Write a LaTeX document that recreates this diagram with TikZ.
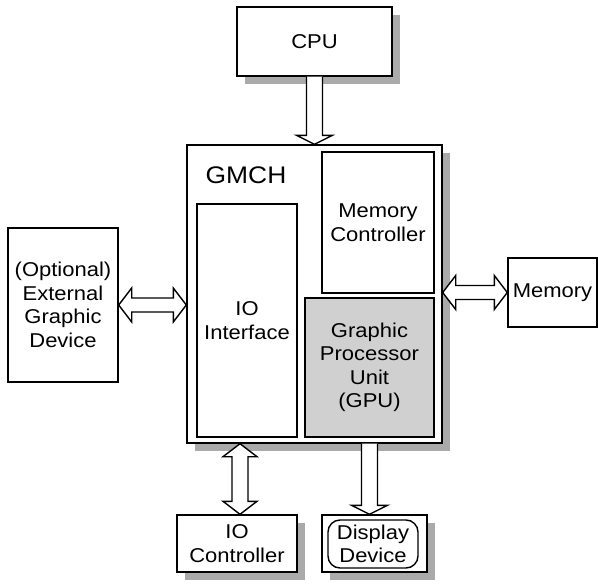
\documentclass[tikz,border=0pt]{standalone}
\usepackage{fontspec}
\setmainfont[FakeStretch=1.1]{Liberation Sans}
\usetikzlibrary{calc,shadows}
\definecolor{shadowgray}{RGB}{170,170,170}
\definecolor{gpugray}{RGB}{208,208,208}
\tikzset{
  box/.style={draw,fill=white,line width=1.4pt,inner sep=0pt,align=center,font=\fontsize{20}{23.5}\selectfont},
  shadowed/.style={drop shadow={shadow xshift=8pt,shadow yshift=-8pt,fill=shadowgray,opacity=1}},
  blockarr/.style={draw,line width=1.4pt,fill=white,line join=miter}
}
\newcommand{\vsarrow}[2]{\draw[blockarr] let \p1=(#1), \p2=(#2) in
  (\x1-8pt,\y1) -- (\x1-8pt,\y2+9pt) -- (\x1-18pt,\y2+9pt) -- (\x1,\y2)
  -- (\x1+18pt,\y2+9pt) -- (\x1+8pt,\y2+9pt) -- (\x1+8pt,\y1);}
\newcommand{\vdarrow}[2]{\draw[blockarr] let \p1=(#1), \p2=(#2) in
  (\x1,\y1) -- (\x1+17pt,\y1-13pt) -- (\x1+8pt,\y1-13pt) -- (\x1+8pt,\y2+13pt)
  -- (\x1+17pt,\y2+13pt) -- (\x1,\y2) -- (\x1-17pt,\y2+13pt) -- (\x1-8pt,\y2+13pt)
  -- (\x1-8pt,\y1-13pt) -- (\x1-17pt,\y1-13pt) -- cycle;}
\newcommand{\hdarrow}[2]{\draw[blockarr] let \p1=(#1), \p2=(#2) in
  (\x1,\y1) -- (\x1+13pt,\y1+17pt) -- (\x1+13pt,\y1+7pt) -- (\x2-13pt,\y1+7pt)
  -- (\x2-13pt,\y1+17pt) -- (\x2,\y1) -- (\x2-13pt,\y1-17pt) -- (\x2-13pt,\y1-7pt)
  -- (\x1+13pt,\y1-7pt) -- (\x1+13pt,\y1-17pt) -- cycle;}
\begin{document}
\begin{tikzpicture}[x=1pt,y=-1pt]
\useasboundingbox (0,0) rectangle (598,584);
\node[box,shadowed,minimum width=155,minimum height=69] at (314.5,41.5) (cpu) {CPU};
\node[box,shadowed,minimum width=255,minimum height=298] at (314.5,294) (gmch) {};
\node[font=\fontsize{24}{24}\selectfont] at (246,175) (gmchlabel) {GMCH};
\node[box,minimum width=112,minimum height=141] at (378,222.5) (memctl) {Memory\\Controller};
\node[box,minimum width=100,minimum height=233] at (247,320.5) (ioif) {IO\\Interface};
\node[box,fill=gpugray,minimum width=129,minimum height=139] at (369.5,367.5) (gpu) {Graphic\\Processor\\Unit\\(GPU)};
\node[box,minimum width=110,minimum height=154] at (63,305) (extgfx) {(Optional)\\External\\Graphic\\Device};
\node[box,minimum width=89,minimum height=69] at (552.5,292.5) (mem) {Memory};
\node[box,shadowed,minimum width=120,minimum height=57] at (237,543.5) (ioctl) {IO\\Controller};
\node[box,shadowed,minimum width=105,minimum height=57] at (374.5,543.5) (disp) {};
\node[box,rounded corners=12pt,minimum width=90,minimum height=48] at (373,544) (dispin) {Display\\Device};
\vsarrow{cpu.south}{cpu.south |- gmch.north}
\hdarrow{extgfx.east}{extgfx.east -| gmch.west}
\hdarrow{gmch.east |- mem.west}{mem.west}
\vdarrow{$(ioctl.north |- gmch.south)+(3,0)$}{$(ioctl.north)+(3,0)$}
\vsarrow{gpu.south |- gmch.south}{gpu.south |- disp.north}
\end{tikzpicture}
\end{document}
